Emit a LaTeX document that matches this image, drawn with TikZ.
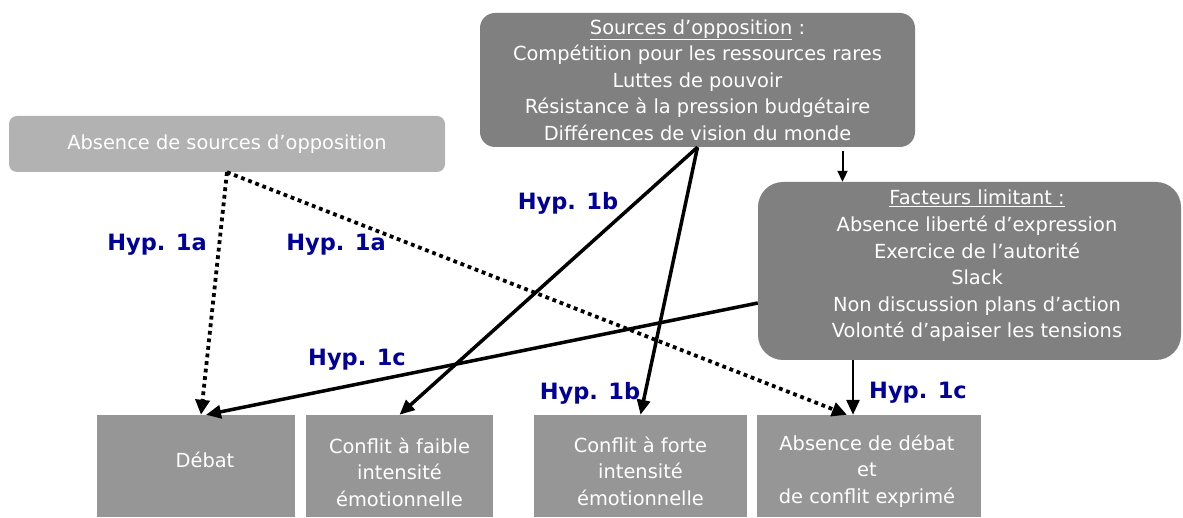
\documentclass[tikz,border=0pt]{standalone}
\usepackage{fontspec}
\setmainfont{DejaVu Sans}
\usetikzlibrary{arrows.meta,calc}
\definecolor{hypblue}{RGB}{0,0,153}
\definecolor{darkbox}{RGB}{128,128,128}
\definecolor{lightbox}{RGB}{178,178,178}
\definecolor{outbox}{RGB}{150,150,150}
\begin{document}
\begin{tikzpicture}[x=1pt,y=-1pt,
  boxtext/.style={font=\fontsize{19.4}{26.6}\selectfont, text=white, align=center},
  srcbox/.style={fill=darkbox, rounded corners=15pt, minimum width=435pt, minimum height=134pt, inner sep=0pt},
  absbox/.style={fill=lightbox, rounded corners=8pt, minimum width=436pt, minimum height=56pt, inner sep=0pt},
  facbox/.style={fill=darkbox, rounded corners=25pt, minimum width=423pt, minimum height=178pt, inner sep=0pt},
  outcome/.style={fill=outbox, minimum height=102pt, inner sep=0pt},
  hyp/.style={font=\bfseries\fontsize{22.5}{27}\selectfont, text=hypblue, inner sep=0pt},
  sarrow/.style={line width=3.5pt, -{Triangle[length=15pt,width=13pt]}},
  darrow/.style={line width=3.8pt, dash pattern=on 3.8pt off 3.8pt, -{Triangle[length=15pt,width=14pt]}},
  tarrow/.style={line width=2pt, -{Triangle[length=11pt,width=10pt]}}
]
\useasboundingbox (0,0) rectangle (1183,518);

% boxes
\node[srcbox, boxtext] (src) at (697.5,80) {\underline{Sources d’opposition} :\\Compétition pour les ressources rares\\Luttes de pouvoir\\Résistance à la pression budgétaire\\Différences de vision du monde};
\node[absbox, boxtext] (abs) at (227,144) {Absence de sources d’opposition};
\node[facbox] (fac) at (969.5,271) {};
\node[boxtext] (facT) at (977,266) {\underline{Facteurs limitant :}\\Absence liberté d’expression\\Exercice de l’autorité\\Slack\\Non discussion plans d’action\\Volonté d’apaiser les tensions};

\node[outcome, minimum width=198pt] (b1) at (196,466) {};
\node[outcome, minimum width=187pt] (b2) at (399.5,466) {};
\node[outcome, minimum width=213pt] (b3) at (640.5,466) {};
\node[outcome, minimum width=224pt] (b4) at (869,466) {};
\node[boxtext] (t1) at (205,460) {Débat};
\node[boxtext] (t2) at (399.5,472) {Conflit à faible\\intensité\\émotionnelle};
\node[boxtext] (t3) at (640.5,471) {Conflit à forte\\intensité\\émotionnelle};
\node[boxtext] (t4) at (867,471) {Absence de débat\\et\\de conflit exprimé};

% connectors
\coordinate (d1) at ([xshift=5pt]b1.north);
\coordinate (d4) at ([xshift=-22pt]b4.north);
\draw[darrow] (abs.south) -- (d1);
\draw[darrow] (abs.south) -- (d4);
\draw[sarrow] (src.south) -- (b2.north);
\draw[sarrow] (src.south) -- (b3.north);
\draw[sarrow] ([yshift=-32pt]fac.west) -- ([xshift=10pt]b1.north);
\coordinate (f4) at ([xshift=-16pt]b4.north);
\draw[sarrow, line width=2.8pt] (fac.south -| f4) -- (f4);
\coordinate (fin) at ([xshift=-127pt]fac.north);
\coordinate (fout) at ([yshift=-4pt]src.south -| fin);
\draw[tarrow] (fout) -- (fin);

% labels
\node[hyp] (h1) at (157,245) {Hyp. 1a};
\node[hyp] (h2) at (336,245) {Hyp. 1a};
\node[hyp] (h3) at (568,203) {Hyp. 1b};
\node[hyp] (h4) at (357,360) {Hyp. 1c};
\node[hyp] (h5) at (590,393) {Hyp. 1b};
\node[hyp] (h6) at (918,393) {Hyp. 1c};
\end{tikzpicture}
\end{document}
